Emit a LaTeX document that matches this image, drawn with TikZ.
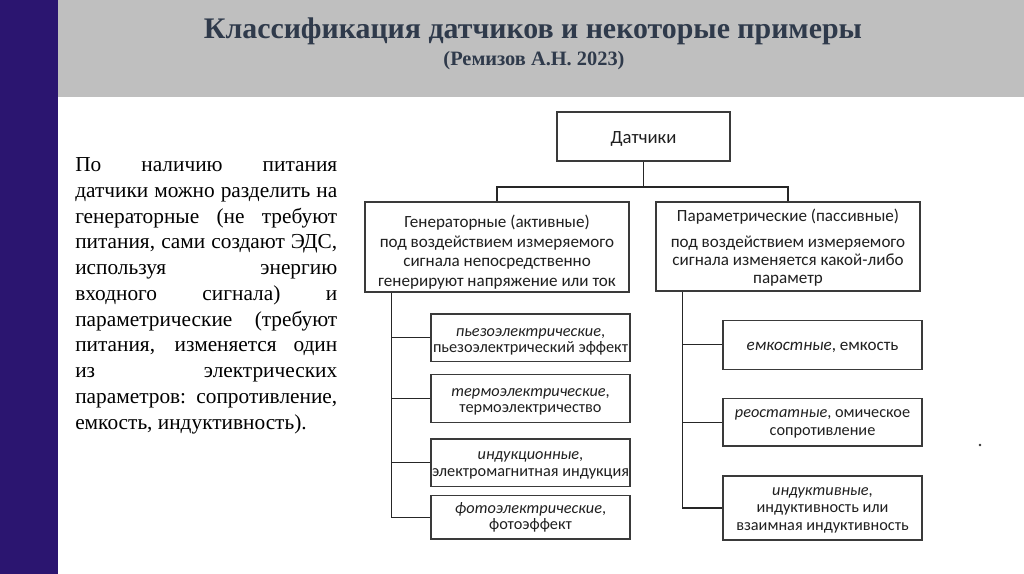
\documentclass[tikz,border=0pt]{standalone}
\usepackage{fontspec}
\setmainfont{Liberation Serif}
\newfontfamily\calfam{Carlito}
\definecolor{barpurple}{HTML}{2B1570}
\definecolor{headgray}{HTML}{BFBFBF}
\definecolor{titlecol}{HTML}{2F3A4B}
\definecolor{boxline}{HTML}{3A3A3A}
\newdimen\pxu \pxu=0.75pt
\newcommand\hs[1]{\rule{0pt}{#1\pxu}}
\newcommand\ds[1]{\rule[-#1\pxu]{0pt}{#1\pxu}}
\begin{document}
\begin{tikzpicture}[x=0.75pt,y=-0.75pt,
  box/.style={draw=boxline,line width=0.9pt,fill=white,rectangle,inner sep=0pt,align=center,text=black!88},
  conn/.style={draw=black!85,line width=0.9pt},
  gentxt/.style={font=\calfam\fontsize{12.8}{14.625}\selectfont},
  partxt/.style={font=\calfam\fontsize{12.8}{13.35}\selectfont},
  smalltxt/.style={font=\calfam\fontsize{12.2}{12.4}\selectfont},
  righttxt/.style={font=\calfam\fontsize{12.2}{13.3}\selectfont},
  smallbox/.style={box,minimum width=149.25pt}]
\useasboundingbox (0,0) rectangle (1024,574);
\fill[white] (0,0) rectangle (1024,574);
\fill[barpurple] (0,0) rectangle (58,574);
\fill[headgray] (58,0) rectangle (1024,97);
\node[anchor=base,text=titlecol,font=\bfseries\fontsize{22.4}{27}\selectfont,inner sep=0] (title) at (533,39) {Классификация датчиков и некоторые примеры};
\node[anchor=base,text=titlecol,font=\bfseries\fontsize{15.3}{18}\selectfont,inner sep=0] (subtitle) at (534,66) {(Ремизов А.Н. 2023)};
\node[anchor=north west,inner sep=0,align=left,font=\fontsize{16}{19.3}\selectfont] (para) at (75,157.5) {%
\makebox[196.5pt][s]{По наличию питания}\\
\makebox[196.5pt][s]{датчики можно разделить на}\\
\makebox[196.5pt][s]{генераторные (не требуют}\\
\makebox[196.5pt][s]{питания, сами создают ЭДС,}\\
\makebox[196.5pt][s]{используя энергию}\\
\makebox[196.5pt][s]{входного сигнала) и}\\
\makebox[196.5pt][s]{параметрические (требуют}\\
\makebox[196.5pt][s]{питания, изменяется один}\\
\makebox[196.5pt][s]{из электрических}\\
\makebox[196.5pt][s]{параметров: сопротивление,}\\
емкость, индуктивность).};
% boxes
\node[box,minimum width=129.75pt,minimum height=36.75pt,font=\calfam\fontsize{14}{16}\selectfont] (dat) at (643.5,136.5) {\hs{18.6}Датчики\ds{5}};
\node[box,gentxt,minimum width=198pt,minimum height=67.5pt] (gen) at (497,247) {\hs{25}Генераторные (активные)\\под воздействием измеряемого\\сигнала непосредственно\\генерируют напряжение или ток\ds{5.5}};
\node[box,partxt,minimum width=198pt,minimum height=66.75pt] (par) at (788,246.5) {\hs{17.5}Параметрические (пассивные)\\[6.15pt]под воздействием измеряемого\\сигнала изменяется какой-либо\\параметр\ds{5.5}};
\node[smallbox,smalltxt,minimum height=35.475pt] (l1) at (530.5,337.65) {\hs{18.8}\textit{пьезоэлектрические},\\пьезоэлектрический эффект\ds{5}};
\node[smallbox,smalltxt,minimum height=35.7pt] (l2) at (530.5,398.5) {\hs{17.1}\textit{термоэлектрические},\\термоэлектричество\ds{5}};
\node[smallbox,smalltxt,minimum height=35.775pt] (l3) at (530.5,462.85) {\hs{15.8}\textit{индукционные},\\электромагнитная индукция\ds{5}};
\node[smallbox,smalltxt,minimum height=32.475pt] (l4) at (530.5,517.35) {\hs{13.4}\textit{фотоэлектрические},\\фотоэффект\ds{5}};
\node[smallbox,font=\calfam\fontsize{12.8}{14}\selectfont,minimum height=36.75pt] (r1) at (822.5,344.8) {\hs{16}\textit{емкостные}, емкость\ds{5}};
\node[smallbox,righttxt,minimum height=35.775pt] (r2) at (822.5,422.15) {\hs{14.7}\textit{реостатные}, омическое\\сопротивление\ds{6}};
\node[smallbox,righttxt,minimum height=48pt] (r3) at (822.5,508) {\hs{15.7}\textit{индуктивные},\\индуктивность или\\взаимная индуктивность\ds{6}};
% connectors
\coordinate (split) at (643.5,187);
\draw[conn] (dat.south) -- (split);
\draw[conn] (split) -| (gen.north);
\draw[conn] (split) -| (par.north);
\coordinate (gt) at ([xshift=20.25pt]gen.south west);
\coordinate (pt) at ([xshift=20.25pt]par.south west);
\draw[conn] (gt) |- (l4.west);
\foreach \n in {l1,l2,l3} \draw[conn] (\n.west) -- (\n.west -| gt);
\draw[conn] (pt) |- (r3.west);
\foreach \n in {r1,r2} \draw[conn] (\n.west) -- (\n.west -| pt);
\fill[black!80] (980,445) circle (1pt);
\end{tikzpicture}
\end{document}
